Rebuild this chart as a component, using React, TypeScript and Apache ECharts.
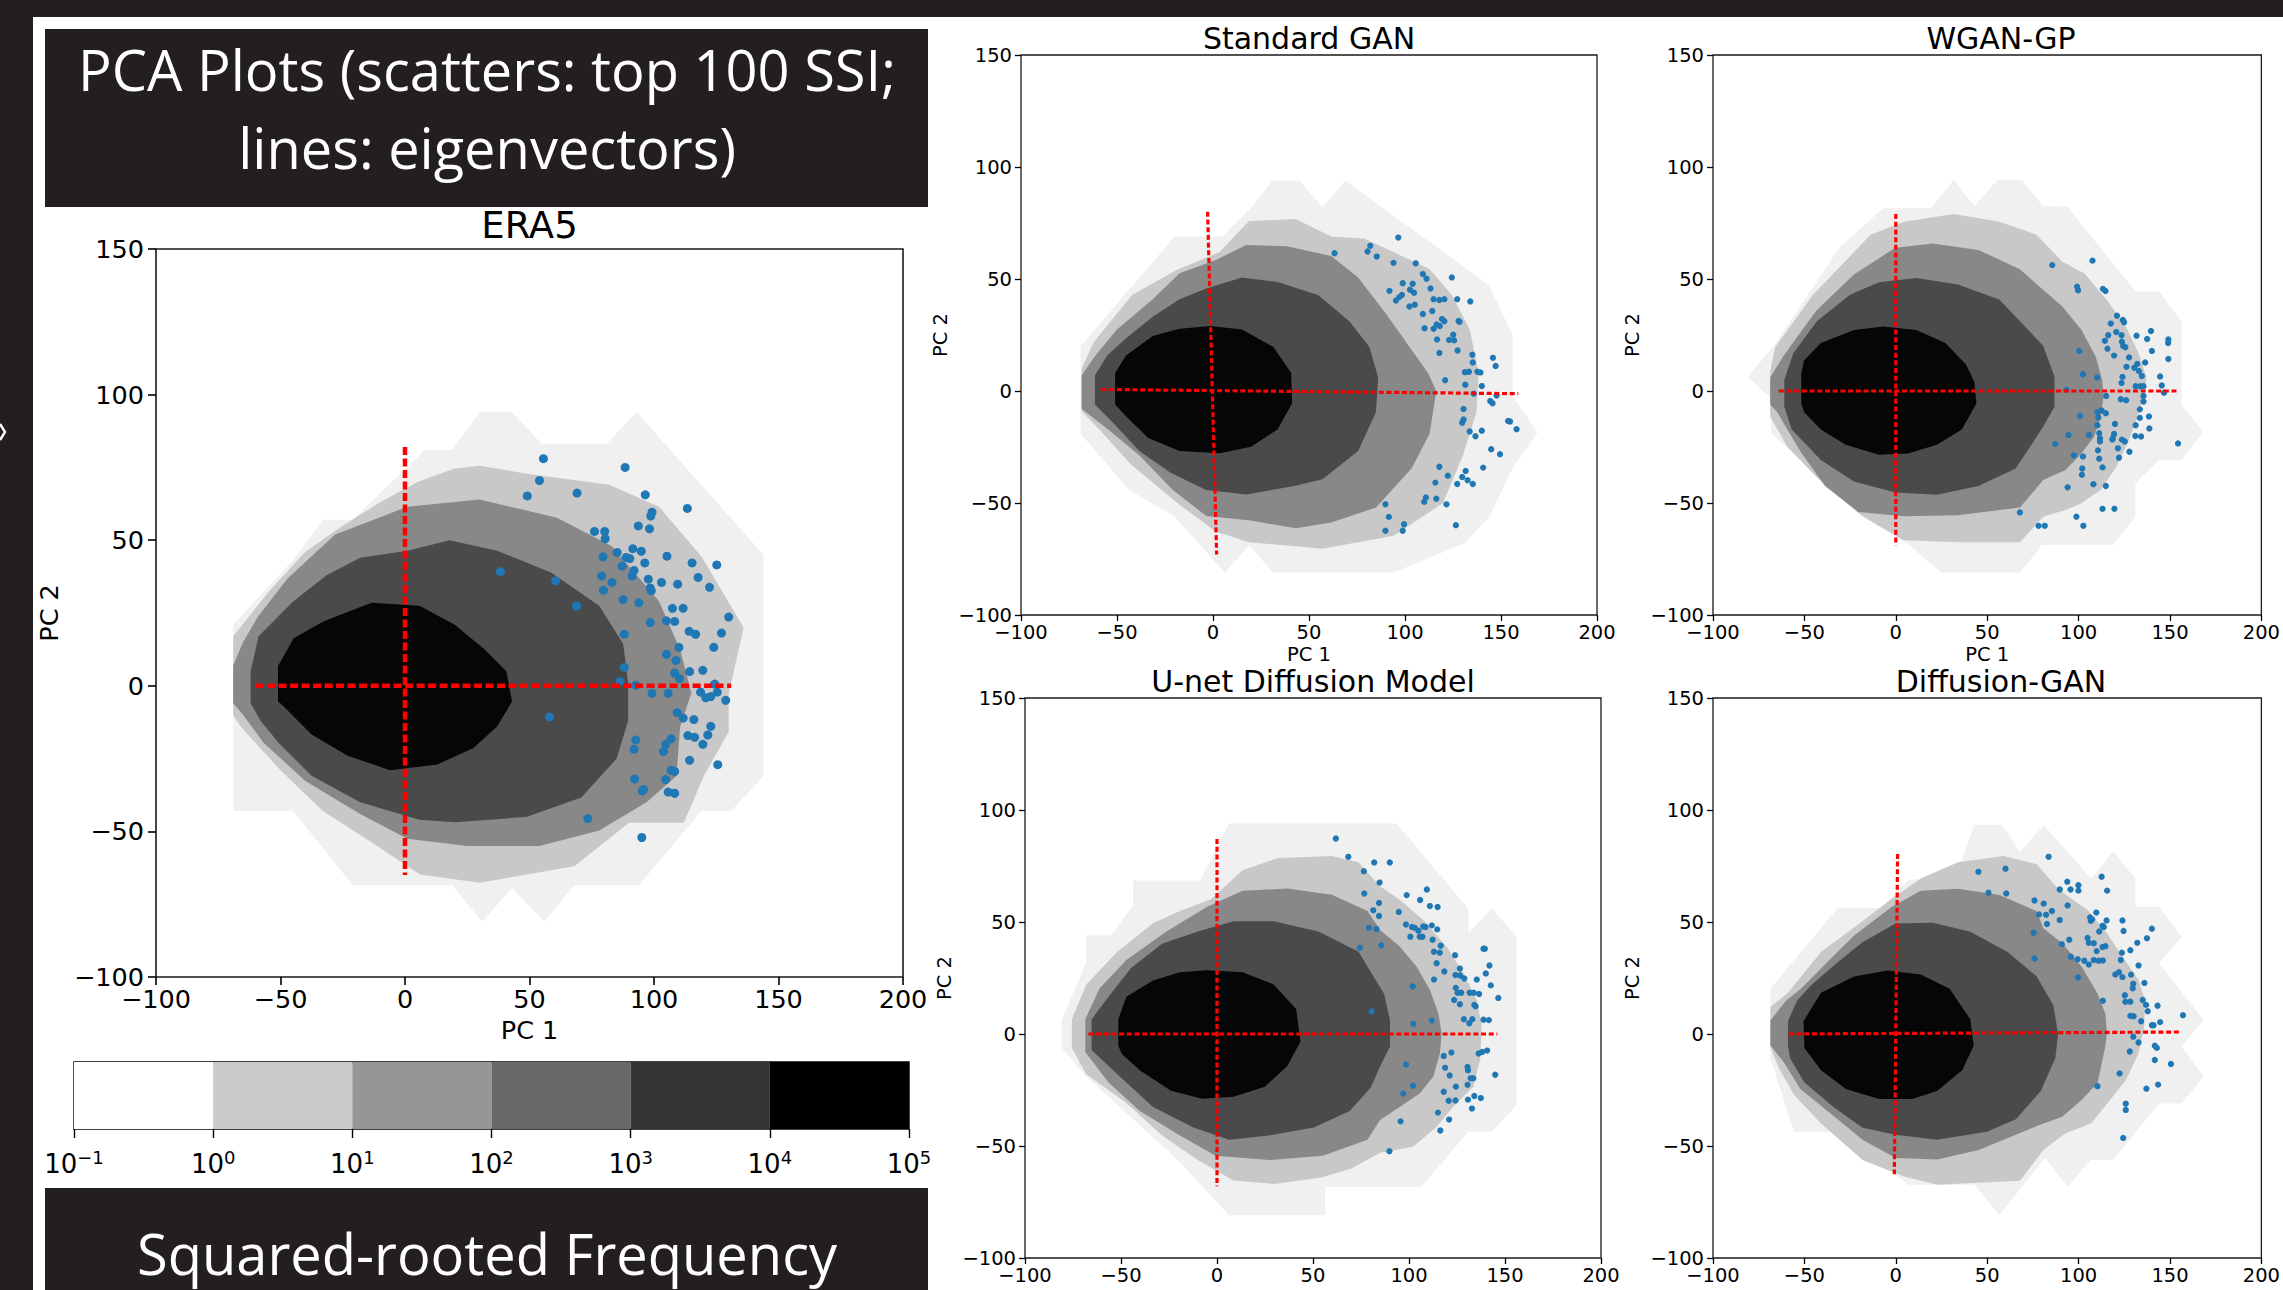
import React, { useEffect, useRef } from "react";
import * as echarts from "echarts";

// ---------------- data ----------------
const X_MIN = -100;
const X_MAX = 200;
const Y_MIN = -100;
const Y_MAX = 150;
const TICK_STEP = 50;

const LEVEL_COLORS = ["#f0f0f0", "#c8c8c8", "#888888", "#4a4a4a", "#060606"];
const CB_EXPONENTS = [-1, 0, 1, 2, 3, 4, 5];
const CB_COLORS = ["#ffffff", "#cacaca", "#969696", "#686868", "#343434", "#000000"];

const TITLE_LINES = ["PCA Plots (scatters: top 100 SSI;", "lines: eigenvectors)"];
const FOOT_TEXT = "Squared-rooted Frequency";
const PANEL_TITLES = ["ERA5", "Standard GAN", "WGAN-GP", "U-net Diffusion Model", "Diffusion-GAN"];

// contour polygons (outer -> inner), in PC1/PC2 units
const ERA5_CONTOURS = [
  [[-69, 21], [-45, 43], [-33, 57], [-21, 57], [8, 81], [19, 81], [30, 94], [43, 94], [55, 83], [81, 83], [93, 94], [144, 45], [144, -31], [131, -43], [119, -43], [94, -68.5], [68, -68.5], [56, -81], [43, -69.5], [31, -81], [19, -68.5], [-21, -68.5], [-45, -43], [-69, -43]],
  [[-69, 17], [-55, 32], [-40, 46], [-25, 55], [-10, 63], [5, 70], [20, 74.6], [30, 75.6], [49, 72.8], [82, 69], [102, 61.5], [119, 44.5], [136, 20], [130, -2.6], [130, -15.8], [120, -31], [112, -47], [90, -47], [68, -62], [30, -67.6], [6, -64.8], [-13, -54], [-33, -43], [-50, -29], [-66, -14], [-69, -10]],
  [[-69, 7], [-65, 15], [-59, 23.8], [-47, 37], [-28, 52], [1, 61.5], [30, 64], [61, 57.7], [83, 48], [102, 29], [110.5, 12.5], [115, -2.6], [110.5, -14], [109, -31], [97, -40], [78, -49.7], [54, -55], [25, -55], [1, -52.5], [-18, -44], [-40, -32.7], [-56.7, -19.6], [-65, -10], [-69, -6]],
  [[-62, 5], [-58.8, 17], [-50.7, 24], [-44.8, 29], [-31.5, 38], [-18, 44], [1, 46.4], [17.9, 50], [37, 46.4], [58.8, 38.8], [78, 27.5], [87.6, 14.4], [89.6, 1.1], [89.6, -12], [85, -25], [70.8, -38.4], [49, -45], [20, -46.9], [5.8, -46], [-18, -40], [-37.5, -30.9], [-50.7, -19.6], [-58, -12], [-62, -6]],
  [[-51, 6.8], [-44.7, 16.3], [-33, 22], [-27.8, 23.8], [-13.4, 28.5], [5.8, 27.5], [20, 21], [32, 12.5], [40.7, 5], [43, -5.4], [37, -14], [27.5, -21.4], [13, -27], [-6, -29], [-23, -24], [-37.5, -16.7], [-49.5, -6.4], [-51, -5.4]],
];

const SGAN_CONTOURS = [
  [[-69, 20], [-20, 69], [5, 69], [20, 82], [31, 94], [45, 94], [57, 82], [69, 94], [144, 47], [156, 25], [156, -2], [169, -18.5], [156, -34.5], [144, -56], [131, -68], [94, -81], [31, -81], [19, -69], [6, -81], [-20, -56], [-44, -44], [-69, -19]],
  [[-68.4, 10], [-62, 22], [-42, 43], [-19, 54], [3.5, 62], [18.6, 75.8], [43, 76.8], [61.6, 69], [79, 68], [94, 62], [112.8, 54.5], [124.4, 42.9], [133.7, 27.4], [138.4, 8], [137.2, -9.4], [130.2, -28.7], [119.8, -50], [94.2, -64.6], [57, -70.4], [18.6, -67.5], [1.2, -62.6], [-18.6, -50], [-43, -32.6], [-59.3, -17.1], [-68.4, -9]],
  [[-68.4, 7], [-61.2, 15.8], [-50, 27.4], [-31.4, 41], [-17.4, 52.6], [1.2, 58.4], [17.4, 65.2], [38.4, 64.6], [61.6, 60.3], [75.6, 50.7], [89.5, 35.2], [102.3, 19.7], [112, 8], [116.3, 0], [112.8, -19.1], [103.5, -34.5], [84.9, -52], [61.6, -58.7], [43, -61.3], [19.8, -57.8], [-3.5, -55.8], [-20.9, -44.2], [-38.4, -28.7], [-54.7, -17.1], [-68.4, -8]],
  [[-61.5, 7], [-55, 16], [-45.3, 23.5], [-31.4, 33.2], [-17.4, 41], [-3.5, 45.8], [15.1, 50.7], [33.7, 48.7], [54.7, 42.9], [70.9, 31.3], [81.4, 19.7], [86, 6.1], [84.9, -9.4], [75.6, -26.8], [57, -39.4], [43, -42.3], [17.4, -46.2], [-3.5, -44.2], [-22.1, -36.5], [-38.4, -26.8], [-51.2, -15], [-61.5, -6]],
  [[-51, 8], [-45.3, 15.8], [-31.4, 24.5], [-17.4, 27.8], [-1.2, 29], [15.1, 27.4], [31.4, 19.7], [40.7, 8], [41.2, -5.5], [33.7, -17.1], [19.8, -24.9], [3.5, -27.8], [-17.4, -26.8], [-33.7, -21], [-45.3, -11.3], [-51, -6]],
];

const WGAN_CONTOURS = [
  [[-81, 6.5], [-67, 19.7], [-30.7, 64.2], [-6.9, 81.6], [19.2, 81.6], [31.7, 94.2], [43, 82.6], [55.5, 94.2], [69, 94.2], [80.5, 82.6], [93.8, 82.3], [131.1, 44.4], [144.1, 44.4], [156.3, 30.9], [156.3, -6.25], [168.4, -18.2], [156.3, -30.8], [144.1, -30.8], [131.1, -41.2], [131.1, -56.1], [118.9, -68.8], [80, -68.8], [68, -81], [24.9, -81], [6.7, -68.4], [-18.2, -55.8], [-68.1, -19], [-68.1, -3.7]],
  [[-68.7, 9], [-66, 19.5], [-45.5, 42.7], [-31.9, 54.3], [-13.8, 69.8], [4.4, 75.6], [31.6, 79], [56.6, 75.6], [77, 69.8], [91.1, 57.7], [103.3, 52.5], [115.5, 40.6], [125.9, 28.7], [132.8, 16.8], [137.1, 6.4], [136.3, -1], [132.8, -10], [127.6, -21.9], [120.7, -33.8], [112, -44.2], [101.6, -50.1], [92.9, -53.1], [80.7, -56.1], [67.9, -67.5], [33.9, -67.5], [4.4, -66.6], [-18.3, -55.9], [-43.3, -38.5], [-59.2, -25], [-68.7, -11.5]],
  [[-68.7, 6], [-62, 15], [-54.6, 23.4], [-43.3, 36], [-22.9, 52], [-0.2, 64], [20.3, 65.9], [45.2, 63], [67.9, 54.3], [80.7, 45.1], [91.1, 37.7], [101.6, 27.2], [109.4, 15.3], [112.9, 4.9], [113.7, -2.5], [112, -11.5], [108.5, -20.4], [101.6, -27.8], [92.9, -35.3], [80.7, -39.7], [67.9, -52], [33.9, -55.5], [4.4, -55.9], [-20.6, -54], [-38.7, -42.4], [-52.3, -26.9], [-64.8, -9.5], [-68.7, -6]],
  [[-61, 5], [-56, 17], [-43.3, 31], [-25.1, 43], [-9.2, 48.5], [11.2, 50.4], [33.9, 47.5], [56.6, 40.8], [72.5, 27.2], [80.7, 20.1], [86.8, 6.4], [86.8, -7], [80.7, -15.9], [65.6, -34.6], [45.2, -42.4], [22.5, -46.3], [-0.2, -45.3], [-22.9, -40.4], [-41, -30.8], [-56.9, -17.2], [-61, -7]],
  [[-51.7, 7.9], [-50.1, 13.7], [-41, 21.4], [-22.9, 27.2], [-7, 28.8], [11.2, 27.2], [27.1, 21.4], [38.4, 11.8], [43, 4], [44.1, -5.6], [36.1, -17.2], [22.5, -24], [6.6, -27.9], [-9.2, -28.5], [-27.4, -24], [-41, -17.2], [-50.1, -9.5], [-51.7, -5.6]],
];

const UNET_CONTOURS = [
  [[-80.9, 6.3], [-68.1, 32], [-68.1, 44], [-55.3, 44], [-43.7, 57.5], [-43.7, 68.5], [-8.9, 68.5], [6.3, 94], [93.6, 94], [130.9, 56], [130.9, 45], [143.1, 56], [156.1, 43.4], [156.1, -31.7], [143.1, -43.6], [130.9, -43.6], [106.6, -68.2], [56.3, -68.2], [56.3, -80.9], [6.3, -80.9], [-20.4, -56.3], [-68.1, -19], [-80.9, -6.3]],
  [[-75.6, 6.6], [-68.1, 22.1], [-51.9, 36.7], [-33.3, 49.4], [-19.3, 54.9], [-3, 60.3], [13.3, 73.1], [31.9, 78.6], [59.8, 79.5], [73.7, 76.7], [84.9, 66], [95.3, 59.8], [107.5, 50.9], [119.6, 39], [128.3, 27.1], [135.3, 15.2], [137.9, 3.3], [137, -11.6], [133.5, -23.5], [123.1, -32.4], [114.4, -41.4], [102.2, -50.3], [85, -53], [70, -60], [55, -64], [30, -67], [8.6, -65.4], [-10, -56.3], [-28.6, -45.3], [-47.2, -30.8], [-68.1, -18], [-75.6, -6.2]],
  [[-68.6, 6.6], [-61.2, 20.3], [-47.2, 33], [-26.3, 45.8], [-5.3, 56.7], [13.3, 64], [36.5, 64.9], [59.8, 62.2], [78.4, 54.9], [84.9, 46.4], [95.3, 39], [104, 30], [110.9, 19.6], [115.3, 9.2], [117, 0.3], [116.1, -8.6], [112.7, -19], [105.7, -26.5], [95.3, -32.5], [84.9, -38.4], [78.4, -47.2], [55.1, -54.4], [27.2, -56.3], [-0.7, -54.4], [-19.3, -45.3], [-40.2, -34.4], [-56.5, -21.6], [-68.6, -8]],
  [[-65.3, 6.6], [-56.5, 16.6], [-44.9, 29.4], [-28.6, 40.3], [-10, 45.8], [8.6, 50.3], [29.5, 50.3], [52.8, 45.8], [73.7, 36.7], [87, 18], [90.1, 6.3], [90.1, -5.6], [84.9, -14.5], [80, -24], [69.1, -34.4], [50.5, -41.7], [27.2, -45.3], [6.3, -47.2], [-12.3, -41.7], [-33.3, -32.6], [-51.9, -18], [-65.3, -7.1]],
  [[-51.4, 6.6], [-47.2, 16.6], [-33.3, 23.9], [-19.3, 27.6], [-5.3, 28.5], [13.3, 27.6], [29.5, 22.1], [41.2, 11.2], [43.5, -3.4], [36.5, -14.4], [24.9, -23.5], [8.6, -28], [-7.7, -28.9], [-24, -25.3], [-40.2, -16.2], [-49.5, -8.9], [-51.4, -5.2]],
];

const DGAN_CONTOURS = [
  [[-68.6, 20.2], [-31.8, 56.3], [-8, 56.3], [7, 69], [32, 69], [43, 93.4], [57.8, 93.4], [68, 81.2], [81, 93.3], [106.8, 69.5], [118.9, 81.4], [131.1, 69.5], [131.1, 56.8], [144.1, 56.8], [156.3, 43.4], [144.1, 31.6], [168.4, 6.25], [156.3, -5.7], [168.4, -19.1], [156.3, -31], [144.1, -31], [118.9, -56.3], [106.8, -56.3], [93.9, -68.2], [81.6, -55.4], [56.7, -80.9], [43, -67.3], [6.8, -67.3], [-30.7, -43.6], [-55.7, -43.6], [-68.6, -10.7]],
  [[-68.6, 12], [-59, 18.4], [-40.9, 36.6], [-22.8, 47.5], [-2.3, 60.3], [13.6, 69.4], [34, 76.7], [58.9, 79.5], [77.1, 75.8], [87.7, 65.8], [94.6, 61.3], [105, 55.4], [115.5, 45], [124.1, 34.5], [132.8, 24.1], [136.3, 15.2], [135.9, 3.3], [132.8, -8.6], [125.9, -20.5], [117.2, -29.5], [106.8, -39.9], [92.9, -44.3], [80.7, -51.8], [68, -65.5], [22.6, -67.3], [4.5, -63.6], [-18.2, -56.3], [-40.9, -40], [-55.6, -27.2], [-63.5, -16], [-68.6, -6]],
  [[-68.6, 6], [-60, 15], [-52.2, 20], [-36.3, 33], [-22.8, 44], [-2.3, 56.7], [13.6, 63.9], [34, 64.8], [56.7, 62.1], [77.1, 54.8], [80.7, 47.2], [91.1, 40.5], [101.6, 30.1], [110.3, 18.2], [114.6, 9.2], [115.5, 0.3], [114.6, -5.7], [110.3, -22], [101.6, -29.5], [91.1, -36.9], [80.7, -39.9], [45.3, -51.8], [22.6, -56], [-0.1, -55.4], [-18.2, -47.2], [-31.8, -38.1], [-52.2, -24.5], [-61.3, -12.6], [-68.6, -5]],
  [[-59, 5.7], [-54, 15], [-46, 22], [-31.8, 32], [-18.2, 41], [-0.1, 49.3], [20.3, 49.7], [40.8, 45.7], [61.2, 36.6], [77.1, 25.7], [86.1, 13], [88.8, 0.2], [87.3, -10.7], [79.3, -25.4], [65.7, -38.1], [49.8, -43.6], [22.6, -47.2], [-0.1, -45], [-18.2, -41.8], [-34.1, -32.6], [-50, -21.7], [-57.9, -10.7], [-59, -5]],
  [[-50.5, 5.7], [-40.9, 18.4], [-22.8, 25.7], [-4.6, 28.4], [13.6, 26.6], [29.4, 20.2], [40.8, 6.5], [42.6, -5.3], [36.3, -16.2], [22.6, -25.4], [9, -29], [-9.1, -29], [-27.3, -24.5], [-40.9, -16.2], [-50, -6.2]],
];

// top-100 SSI samples projected on PC1/PC2
const ERA5_POINTS = [[55.6,78],[54,70.5],[49.1,65.2],[69.1,66.2],[88.4,75],[96.5,65.6],[113.4,60.9],[99.2,59.6],[98.7,58.3],[93.7,54.9],[98.2,53.9],[76.1,53],[80.2,53],[80.4,50.5],[85.2,45.8],[91.5,47.1],[94.9,46.2],[88.8,44.1],[90.3,43.7],[79.5,44.3],[96.3,42.2],[105.2,44.5],[115.3,42.2],[125.2,41.5],[38.3,39.2],[87.2,41.1],[92,39.6],[91.2,37.7],[79,37.7],[83.1,35.5],[97.7,36.6],[103,35.5],[109.5,34.9],[117.7,37.2],[122.3,33.8],[60.5,36],[79.7,32.8],[98.5,33.6],[98.9,32.6],[87.6,29.6],[93.9,28.5],[68.9,27.4],[107.4,26.6],[111.7,26.6],[98.5,21.7],[105,22.3],[108.3,22.1],[88.1,17.7],[130,23.6],[114.1,18.7],[116.7,17.7],[127.1,18.1],[105,10.8],[110,13.2],[124,13.2],[108.8,8.7],[88.1,6.3],[119.6,5.3],[114.3,4.9],[108.3,4.4],[110.2,2.5],[86.4,1.5],[92.7,0.2],[124.4,0.6],[125.4,-2.2],[99.2,-2.6],[105.7,-2.6],[118.7,-2.2],[120.8,-4.1],[122.8,-3.7],[128.8,-5],[109.3,-9.2],[58,-10.7],[111.7,-11.1],[116,-11.6],[122.8,-13.9],[113.6,-17.1],[92.7,-18.6],[106.9,-18.2],[116.3,-17.7],[121.6,-16.9],[92,-21.8],[104.7,-20.1],[119.6,-20.1],[103.8,-22.6],[114.3,-25.6],[125.6,-27.1],[106.9,-29],[108.3,-29.4],[92.2,-32],[104.7,-32.2],[95.8,-35.6],[95.3,-36.1],[105.7,-36.5],[108.3,-36.9],[73.4,-45.6],[95.1,-52.1]];

const SGAN_POINTS = [[63.3,61.5],[81.9,64.8],[80.5,62.3],[85.3,60],[96.5,68.5],[94,57.2],[105.6,57],[109.3,52.2],[111.2,50.1],[124.4,50.7],[91.9,44.7],[98.8,48.1],[104,47.9],[102.6,45.2],[104.7,43.9],[95.3,40.4],[97,41.9],[98.4,42.9],[113.3,45.8],[114.9,41],[117.9,40.6],[120.5,41],[127.2,41],[134,40],[102.3,37.7],[105.1,38.5],[109.3,34.4],[114.2,35.7],[110.2,28],[114.9,27.8],[116.5,29.7],[119.3,32.1],[120.5,31.1],[118.1,29],[127.9,31.3],[128.4,30.9],[125.1,25.1],[123,22.8],[116.7,23],[117.9,17],[127.4,18.1],[125.6,22.6],[135.1,16.2],[145.8,14.8],[135.3,12.7],[147.2,11.2],[120.9,4.8],[131.2,8.4],[133.3,8.6],[137.7,8.6],[139.3,8.3],[131.4,2.8],[140,2.2],[135.8,-1.2],[147.7,-2],[144.4,-4.5],[145.6,-5.5],[130.5,-8],[130.5,-12.7],[129.8,-14.2],[153.7,-13.4],[154.7,-13.6],[158.1,-17.1],[133.7,-18.1],[140,-17.7],[136.7,-20.2],[144.9,-26],[149.5,-28.2],[117.9,-33.8],[140.7,-34.2],[131.6,-35.7],[122.3,-37.8],[129.8,-38.4],[132.6,-39.8],[135.3,-41.5],[115.8,-40.9],[127.2,-41.5],[110.9,-47.5],[110,-49.5],[116.3,-48.1],[121.6,-50.6],[89.8,-50.6],[91.6,-56.2],[99.5,-59.5],[126.5,-59.9],[89.8,-62.4],[98.8,-62.4]];

const WGAN_POINTS = [[85.6,56.2],[107.6,58.2],[99.2,46.6],[99.7,45],[113.3,45.6],[114.7,44.6],[121,33.6],[117.6,30.1],[124.2,31.7],[124.9,30.7],[114.4,22.4],[116.2,24.9],[120.6,26.3],[123.5,24.9],[123.7,22],[124.4,20.1],[125.6,19.5],[131.7,24.7],[139.6,26.8],[137.5,23.2],[149.1,23],[149,21.4],[140.1,17.9],[100.4,17.9],[115.8,18.9],[119.4,15.8],[127.6,15],[126.2,10.8],[130.5,10.4],[133,8.9],[134.6,6.7],[132.1,12.1],[136.4,12.7],[149.1,14.3],[102.4,7.5],[110.1,6],[144.6,6.5],[124,6.3],[123.5,3.6],[131.2,2.1],[133.7,2.1],[135.5,2.1],[145.5,2.5],[93.3,0.5],[115.1,-2.2],[146.7,-0.8],[135.5,-2.2],[123.1,-3.7],[126,-4.1],[135.5,-4.7],[133.5,-8.2],[110.3,-9.5],[112.6,-8.7],[114.9,-9.9],[100.8,-11.1],[110.8,-11.8],[119.9,-14.7],[133.5,-12],[138.5,-11.4],[131.2,-15.3],[138.7,-16.7],[110.3,-15.3],[111.3,-18.8],[119.4,-19.2],[94.5,-19.6],[105.8,-19.6],[118.7,-21.1],[118.5,-21.7],[131,-20.1],[134.2,-20.3],[111.7,-21.1],[111.7,-22.5],[87.2,-23.6],[154.4,-23.4],[123.7,-21.7],[125.3,-22.5],[121.5,-25.6],[127.8,-27.1],[110.6,-26.5],[102.4,-29.2],[97.4,-28.7],[111.3,-30.2],[122.1,-29.8],[102,-34.6],[101.8,-37.4],[113.1,-34.1],[108.1,-41.6],[114.9,-42.4],[94,-43],[113.1,-52.6],[119.6,-52.6],[67.9,-54.2],[98.8,-56.1],[78.1,-60.2],[81.5,-60.2],[102.6,-60.2]];

const UNET_POINTS = [[61.9,87.3],[68.4,79.1],[81.9,76.6],[90,76.6],[76.5,72.7],[84.7,67.6],[109.3,64.5],[76.7,62.7],[98.8,62],[105.8,59.8],[110.9,57.1],[114.9,56.7],[94.7,54.5],[81.4,55.2],[84.4,58.5],[84.4,52.7],[79.1,47.4],[83,46.9],[98.4,48.9],[101.6,47.8],[103,47.4],[107.4,48],[108.6,47.8],[104.9,46.1],[105.6,43.4],[100.7,43.4],[107,43.4],[111.9,48.5],[114.7,46.7],[112.3,42.1],[116.5,39.4],[74.4,38.5],[85.6,39.6],[113,36.7],[116,36.3],[124,35.2],[139.5,38.1],[138.8,38.1],[141.9,30.6],[140,27],[114.4,31.6],[118.4,27.9],[124.2,26.3],[126.5,29.2],[126.7,26.1],[128.8,24.8],[135.3,24.3],[113,24.3],[124.4,20.6],[125.3,18.4],[127.2,18.4],[131.6,18.4],[101.9,21.2],[133.7,18.4],[136.5,17.9],[142.6,21.7],[123.5,15.2],[126.5,13.3],[134,13],[134.7,12.4],[146.5,16.1],[80.5,10.2],[128.6,6.6],[131.4,4.8],[133,6.6],[102.3,4.6],[111.9,6],[138.8,6.4],[141.6,6.2],[136.3,-8.7],[138.1,-8],[140.7,-7.4],[118.1,-9.8],[122.1,-8.3],[118.8,-15.1],[121.2,-18.5],[130.5,-14.7],[130.7,-16.2],[132.1,-19.8],[133.5,-19.8],[144.9,-18.2],[98.4,-13.6],[102.1,-23.1],[97,-26.6],[124.4,-23.5],[130.5,-22.7],[134,-27.7],[137.4,-28.6],[118.1,-25.8],[120.7,-29.8],[124.2,-29.7],[130.7,-29.3],[132.8,-33.3],[115.1,-35.1],[120.9,-38.2],[95.6,-39],[116.3,-43.1],[89.8,-52.3]];

const DGAN_POINTS = [[83.6,79.1],[45.2,72.4],[60,73.8],[50.7,63.1],[60.4,62.7],[93.8,68],[99.9,66.4],[99.9,64],[95.6,64.5],[75.9,59.6],[80.9,58.2],[85.4,54.9],[89.7,64.5],[94,57.4],[115.6,64],[112.6,70.2],[78.4,53.4],[82.2,53.2],[89.7,50.9],[82.7,49.1],[106.3,52],[109.7,54.2],[107.4,51.2],[106.7,50.5],[113.1,48.3],[113.8,47.8],[115.3,50.7],[124,50.7],[124.6,46],[140.1,47],[111.3,45.8],[75.4,45.2],[104.9,42.9],[105.6,40.7],[108.3,40.5],[94.9,42.1],[90.8,40.1],[137.4,42.7],[132.1,40.7],[109.9,37],[113.1,38.8],[114.7,39.2],[123.7,36.3],[128.3,37.4],[95.8,34.5],[99.5,33.4],[103.1,32.7],[105.6,31],[111,32.7],[108.3,33],[113.3,32.8],[75.9,33.7],[99.7,25.2],[120.1,26.6],[122.1,27.6],[123.1,33],[132.8,30.6],[128.7,26.5],[124,25.4],[129.9,22.4],[129.6,20.4],[136,22.8],[125.3,17.3],[128.3,14.4],[125.6,14.4],[113.3,14.8],[135.1,15.2],[130.1,7.9],[128.3,8.1],[137.8,10.2],[134.2,5.7],[136.9,13],[143.2,12.6],[141,3.9],[144.6,5.3],[140.1,3.9],[157.1,8.4],[129.9,-1.2],[132.8,-3.8],[141.7,-5.2],[142.8,-6.2],[128,-7.8],[141.7,-11.6],[150.5,-13.4],[122.4,-17.6],[110.3,-23.3],[137.1,-24.4],[143.5,-22.6],[125.8,-31.1],[125.8,-33.9],[124.4,-46.4]];

// eigenvector segments: [[start],[end]] for PC1 and PC2 directions
const ERA5_EIGEN = [[[-60, 0], [131, 0]], [[0, 82], [0, -65]]];
const SGAN_EIGEN = [[[-58, 0.7], [159, -1.2]], [[-2.8, 80], [1.9, -73]]];
const WGAN_EIGEN = [[[-64, 0], [155, 0]], [[0, 79], [0, -69]]];
const UNET_EIGEN = [[[-67, 0], [146, 0]], [[0, 87], [0, -68]]];
const DGAN_EIGEN = [[[-58.5, 0], [156, 0.9]], [[1, 80.4], [-0.8, -62.6]]];

// ---------------- layout / style ----------------
const W = 2283;
const H = 1290;
const FONT = '"DejaVu Sans", "Liberation Sans", sans-serif';
const SLIDE_FONT = '"Open Sans", "Liberation Sans", sans-serif';
const DARK = "#231f20";

const PANELS = [
  { contours: ERA5_CONTOURS, points: ERA5_POINTS, eigen: ERA5_EIGEN, box: { left: 156, top: 249, width: 747, height: 728 }, big: true, xName: true, titleY: 225 },
  { contours: SGAN_CONTOURS, points: SGAN_POINTS, eigen: SGAN_EIGEN, box: { left: 1021, top: 55, width: 576, height: 560 }, big: false, xName: true, titleY: 38 },
  { contours: WGAN_CONTOURS, points: WGAN_POINTS, eigen: WGAN_EIGEN, box: { left: 1713, top: 55, width: 576, height: 560 }, big: false, xName: true, titleY: 38 },
  { contours: UNET_CONTOURS, points: UNET_POINTS, eigen: UNET_EIGEN, box: { left: 1025, top: 698, width: 576, height: 560 }, big: false, xName: false, titleY: 681 },
  { contours: DGAN_CONTOURS, points: DGAN_POINTS, eigen: DGAN_EIGEN, box: { left: 1713, top: 698, width: 576, height: 560 }, big: false, xName: false, titleY: 681 },
];

const CB_BOX = { left: 74, top: 1062, width: 835, height: 67 };

const fmt = (v: number) => (v < 0 ? "\u2212" + Math.abs(v) : String(v));

function buildOption() {
  const grid: any[] = [];
  const xAxis: any[] = [];
  const yAxis: any[] = [];
  const series: any[] = [];
  const graphic: any[] = [];

  PANELS.forEach((p, i) => {
    const s = p.big
      ? { tick: 25.5, title: 37, tickLen: 8, mx: 9, my: 12, gapX: 38, gapY: 94, dot: 9, ew: 4.5, dash: [8, 3.5], spine: 1.6 }
      : { tick: 19.5, title: 30, tickLen: 6, mx: 7, my: 9, gapX: 29, gapY: 71, dot: 6.3, ew: 3.2, dash: [5, 2.7], spine: 1.3 };

    grid.push({ ...p.box, show: true, borderColor: "#1a1a1a", borderWidth: s.spine, backgroundColor: "transparent" });

    xAxis.push({
      gridIndex: i, type: "value", min: X_MIN, max: X_MAX, interval: TICK_STEP, position: "bottom",
      axisLine: { show: false, onZero: false },
      axisTick: { show: true, inside: false, length: s.tickLen, lineStyle: { color: "#000", width: s.spine } },
      axisLabel: { show: true, color: "#000", fontFamily: FONT, fontSize: s.tick, margin: s.mx, formatter: fmt, showMinLabel: true, showMaxLabel: true },
      splitLine: { show: false },
      name: p.xName ? "PC 1" : "",
      nameLocation: "middle", nameGap: s.gapX,
      nameTextStyle: { color: "#000", fontFamily: FONT, fontSize: s.tick },
    });
    yAxis.push({
      gridIndex: i, type: "value", min: Y_MIN, max: Y_MAX, interval: TICK_STEP, position: "left",
      axisLine: { show: false, onZero: false },
      axisTick: { show: true, inside: false, length: s.tickLen, lineStyle: { color: "#000", width: s.spine } },
      axisLabel: { show: true, color: "#000", fontFamily: FONT, fontSize: s.tick, margin: s.my, formatter: fmt, showMinLabel: true, showMaxLabel: true },
      splitLine: { show: false },
      name: "PC 2", nameLocation: "middle", nameGap: s.gapY, nameRotate: 90,
      nameTextStyle: { color: "#000", fontFamily: FONT, fontSize: s.tick },
    });

    const contours = p.contours;
    series.push({
      type: "custom", xAxisIndex: i, yAxisIndex: i, silent: true, z: 1,
      data: contours.map((_, k) => [0, 0, k]),
      renderItem: (params: any, api: any) => {
        const poly = contours[params.dataIndex];
        return {
          type: "polygon",
          shape: { points: poly.map((pt) => api.coord(pt)) },
          style: { fill: LEVEL_COLORS[params.dataIndex], stroke: null, lineWidth: 0 },
        };
      },
    });
    series.push({
      type: "scatter", xAxisIndex: i, yAxisIndex: i, silent: true, z: 3,
      symbol: "circle", symbolSize: s.dot, data: p.points,
      itemStyle: { color: "#1f77b4", opacity: 1, borderWidth: 0 },
    });
    p.eigen.forEach((seg) => {
      series.push({
        type: "line", xAxisIndex: i, yAxisIndex: i, silent: true, z: 4,
        data: seg, symbol: "none", showSymbol: false,
        lineStyle: { color: "#ff0000", width: s.ew, type: s.dash, cap: "butt" },
      });
    });

    graphic.push({
      type: "text", x: p.box.left + p.box.width / 2, y: p.titleY, z: 10,
      style: {
        text: PANEL_TITLES[i], fill: "#000", font: `${s.title}px ${FONT}`,
        textAlign: "center", textVerticalAlign: "middle", align: "center", verticalAlign: "middle",
      },
    });
  });

  // colorbar
  const cbIdx = PANELS.length;
  grid.push({ ...CB_BOX, show: true, borderColor: "#000", borderWidth: 1.4, backgroundColor: "transparent" });
  xAxis.push({
    gridIndex: cbIdx, type: "value", min: CB_EXPONENTS[0], max: CB_EXPONENTS[CB_EXPONENTS.length - 1], interval: 1,
    position: "bottom",
    axisLine: { show: false, onZero: false },
    axisTick: { show: true, length: 9, lineStyle: { color: "#000", width: 1.4 } },
    splitLine: { show: false },
    axisLabel: {
      show: true, margin: 19, showMinLabel: true, showMaxLabel: true,
      formatter: (v: number) => `{b|10}{s|${fmt(v)}}`,
      rich: {
        b: { fontFamily: FONT, fontSize: 26, color: "#000", lineHeight: 32 },
        s: { fontFamily: FONT, fontSize: 18, color: "#000", verticalAlign: "top", lineHeight: 18 },
      },
    },
  });
  yAxis.push({ gridIndex: cbIdx, type: "value", min: 0, max: 1, show: false });
  series.push({
    type: "custom", xAxisIndex: cbIdx, yAxisIndex: cbIdx, silent: true, z: 1,
    data: CB_COLORS.map((_, k) => [CB_EXPONENTS[k], CB_EXPONENTS[k + 1]]),
    renderItem: (params: any, api: any) => {
      const a = api.coord([api.value(0), 1]);
      const b = api.coord([api.value(1), 0]);
      return {
        type: "rect",
        shape: { x: a[0], y: a[1], width: b[0] - a[0], height: b[1] - a[1] },
        style: { fill: CB_COLORS[params.dataIndex] },
      };
    },
  });

  // slide decoration
  graphic.push(
    { type: "rect", z: 0, shape: { x: 0, y: 0, width: 33, height: H }, style: { fill: DARK } },
    { type: "rect", z: 0, shape: { x: 0, y: 0, width: W, height: 17 }, style: { fill: DARK } },
    { type: "rect", z: 0, shape: { x: 45, y: 29, width: 883, height: 178 }, style: { fill: DARK } },
    { type: "rect", z: 0, shape: { x: 45, y: 1188, width: 883, height: 110 }, style: { fill: DARK } },
    { type: "polyline", z: 1, shape: { points: [[0, 424], [5, 432], [0, 440]] }, style: { stroke: "#ffffff", lineWidth: 2.5, fill: null } },
  );
  const slideText = (text: string, y: number) => ({
    type: "text", x: 487, y, z: 11,
    style: {
      text, fill: "#ffffff", font: `56px ${SLIDE_FONT}`,
      textAlign: "center", textVerticalAlign: "middle", align: "center", verticalAlign: "middle",
    },
  });
  graphic.push(slideText(TITLE_LINES[0], 69), slideText(TITLE_LINES[1], 147), slideText(FOOT_TEXT, 1253));

  return {
    animation: false,
    backgroundColor: "#ffffff",
    grid, xAxis, yAxis, series, graphic,
  };
}

export default function App() {
  const ref = useRef<HTMLDivElement>(null);
  useEffect(() => {
    if (!ref.current) return;
    const chart = echarts.init(ref.current, undefined, { renderer: "svg", width: W, height: H });
    chart.setOption(buildOption() as any);
    return () => chart.dispose();
  }, []);
  return (
    <div
      ref={ref}
      style={{ position: "absolute", left: 0, top: 0, width: W, height: H, overflow: "hidden", background: "#fff" }}
    />
  );
}
